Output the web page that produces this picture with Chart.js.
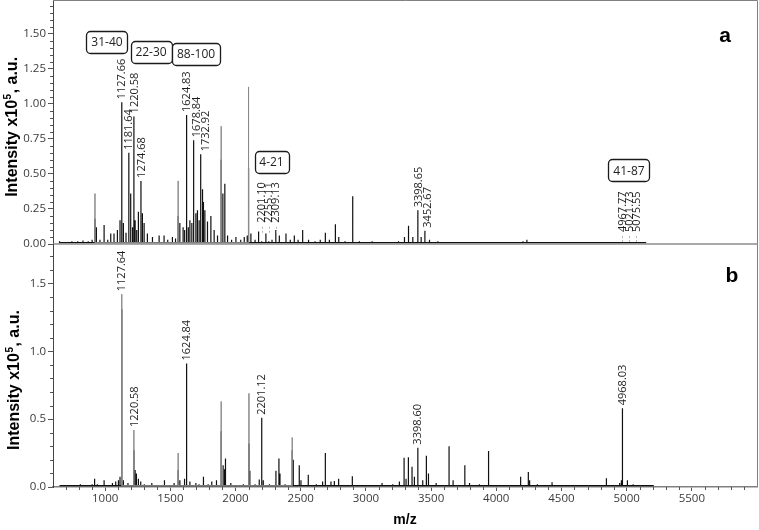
<!DOCTYPE html>
<html><head><meta charset="utf-8">
<script src="https://cdn.jsdelivr.net/npm/chart.js@4.4.1/dist/chart.umd.min.js"></script>
<style>
html,body{margin:0;padding:0;background:#fff;}
#wrap{position:relative;width:759px;height:530px;background:#fff;}
canvas{position:absolute;left:0;top:0;}
</style></head><body>
<div id="wrap"><canvas id="ca" width="759" height="530"></canvas><canvas id="cb" width="759" height="530"></canvas></div>
<script>
// ---------- axis ticks ----------
const xTickValues = [1000,1500,2000,2500,3000,3500,4000,4500,5000,5500];
const yTicksA = [0,0.25,0.5,0.75,1.0,1.25,1.5];
const yTicksB = [0,0.5,1.0,1.5];

// ---------- panel a : peaks (m/z, intensity x10^5) ----------
const peakMzA = [650,700,745,790,830,870,900,922,933,960,992,1020,1043,1068,1094,1114,1127.66,1140,1160,1181.64,1196,1210,1220.58,1230,1242,1255,1274.68,1286,1299,1324,1363,1414,1452,1480,1516,1540,1560,1573,1598,1610,1624.83,1638,1650,1665,1678.84,1696,1708,1721,1732.92,1747,1754,1765,1785,1811,1836,1862,1890,1903,1918,1939,1970,2003,2040,2067,2090,2100,2118,2150,2177,2201.10,2233,2255.11,2280,2309.13,2336,2387,2420,2451,2480,2515,2560,2610,2650,2689,2720,2766,2792,2840,2899,2950,3000,3048,3100,3180,3250,3296,3327,3360,3398.65,3424,3452.67,3488,3552,3650,3800,4000,4205,4235,4400,4967.77,5021.73,5075.55,5150];
const peakIntA = [0.02,0.015,0.02,0.02,0.025,0.02,0.03,0.18,0.12,0.03,0.135,0.03,0.075,0.075,0.1,0.17,1.01,0.15,0.08,0.65,0.36,0.12,0.91,0.17,0.1,0.23,0.45,0.22,0.15,0.075,0.05,0.06,0.06,0.03,0.05,0.04,0.2,0.15,0.12,0.1,0.92,0.12,0.17,0.15,0.74,0.22,0.24,0.17,0.64,0.39,0.3,0.24,0.16,0.2,0.1,0.06,0.6,0.36,0.43,0.06,0.03,0.05,0.03,0.05,0.06,0.54,0.075,0.03,0.09,0.02,0.075,0.02,0.03,0.1,0.06,0.075,0.03,0.06,0.03,0.1,0.03,0.02,0.03,0.08,0.03,0.14,0.05,0.02,0.34,0.02,0.015,0.02,0.015,0.015,0.02,0.05,0.13,0.05,0.24,0.05,0.095,0.03,0.02,0.01,0.01,0.01,0.02,0.03,0.01,0.012,0.012,0.012,0.01];
const tipMzA = [922,1560,1890,2100];
const tipIntA = [0.36,0.45,0.84,1.12];
const labelMzA = [1127.66,1181.64,1220.58,1274.68,1624.83,1678.84,1732.92,2201.10,2255.11,2309.13,3398.65,3452.67,4967.77,5021.73,5075.55];
const labelAtA = [1.01,0.65,0.91,0.45,0.92,0.74,0.64,0.13,0.13,0.13,0.24,0.095,0.064,0.064,0.064];
const labelGuideA = [0,0,0,0,0,0,0,1,1,1,0,0,1,1,1];
const boxTextA = ['31-40','22-30','88-100','4-21','41-87'];
const boxMzA = [1014,1352,1697,2276,5018];
const boxAtA = [1.443,1.371,1.357,0.586,0.525];

// ---------- panel b ----------
const peakMzB = [650,700,760,810,860,900,915,922,940,992,1020,1056,1081,1102,1114,1127.64,1140,1175,1220.58,1230,1240,1255,1273,1300,1358,1400,1455,1490,1529,1560,1573,1609,1624.84,1650,1696,1720,1754,1790,1818,1854,1890,1905,1916,1923,1964,2000,2060,2103,2110,2150,2182,2201.12,2213,2260,2310,2333,2341,2380,2435,2443,2489,2502,2558,2620,2668,2689,2732,2758,2791,2850,2896,2960,3027,3080,3124,3206,3257,3293,3308,3326,3354,3372,3398.60,3436,3464,3480,3539,3600,3638,3669,3720,3759,3795,3871,3941,4026,4100,4187,4246,4256,4315,4428,4600,4845,4900,4947,4960,4968.03,5006,5050,5101,5208];
const peakIntB = [0.01,0.01,0.015,0.02,0.015,0.02,0.05,0.06,0.02,0.05,0.015,0.03,0.04,0.05,0.075,1.31,0.05,0.03,0.27,0.125,0.1,0.06,0.04,0.02,0.03,0.015,0.05,0.015,0.03,0.125,0.05,0.06,0.91,0.04,0.03,0.02,0.075,0.02,0.04,0.05,0.41,0.16,0.13,0.21,0.03,0.015,0.02,0.32,0.12,0.02,0.056,0.51,0.05,0.02,0.12,0.21,0.1,0.02,0.27,0.2,0.16,0.05,0.09,0.02,0.04,0.25,0.04,0.045,0.06,0.015,0.08,0.01,0.015,0.015,0.03,0.02,0.04,0.215,0.06,0.22,0.15,0.075,0.29,0.05,0.23,0.1,0.03,0.015,0.30,0.05,0.015,0.16,0.03,0.02,0.265,0.01,0.01,0.075,0.11,0.05,0.02,0.035,0.01,0.065,0.01,0.03,0.05,0.58,0.05,0.02,0.01,0.01];
const tipMzB = [1127.64,1220.58,1560,1890,2103,2435];
const tipIntB = [1.42,0.42,0.25,0.63,0.69,0.365];
const labelMzB = [1127.64,1220.58,1624.84,2201.12,3398.60,4968.03];
const labelAtB = [1.42,0.42,0.91,0.51,0.29,0.58];

// ---------- helpers ----------
const BASE = 0.01;
function sticks(mz, h) {
  const n = Math.min(mz.length, h.length);
  const idx = [...Array(n).keys()].sort((a,b)=>mz[a]-mz[b]);
  const pts = [];
  idx.forEach(i => { pts.push({x:mz[i],y:BASE},{x:mz[i],y:h[i]},{x:mz[i],y:BASE}); });
  return pts;
}
const SANS = '"Open Sans", "Liberation Sans", Arial, sans-serif';
const BOLD = '"Liberation Sans", Arial, sans-serif';
const LABEL_FONT = '11px ' + SANS;

function drawYTitle(ctx, cx, cy) {
  ctx.save();
  ctx.translate(cx, cy); ctx.rotate(-Math.PI/2);
  const f1 = 'bold 16px ' + BOLD, f2 = 'bold 10px ' + BOLD;
  const p1 = 'Intensity x10', p2 = '5', p3 = ', a.u.';
  ctx.font = f1; const w1 = ctx.measureText(p1).width, w3 = ctx.measureText(p3).width;
  ctx.font = f2; const w2 = ctx.measureText(p2).width + 1;
  const x0 = -(w1 + w2 + w3) / 2;
  ctx.fillStyle = '#000'; ctx.textAlign = 'left'; ctx.textBaseline = 'middle';
  ctx.font = f1; ctx.fillText(p1, x0, 0);
  ctx.font = f2; ctx.fillText(p2, x0 + w1 + 0.5, -5);
  ctx.font = f1; ctx.fillText(p3, x0 + w1 + w2, 0);
  ctx.restore();
}
function drawPeakLabel(ctx, x, y, text) {
  ctx.save();
  ctx.translate(x + 0.5, y); ctx.rotate(-Math.PI/2);
  ctx.font = LABEL_FONT; ctx.fillStyle = '#1e1e1e';
  ctx.textAlign = 'left'; ctx.textBaseline = 'middle';
  ctx.fillText(text, 0, 0);
  ctx.restore();
}
// place rotated labels, nudging a label right when it would collide with its left neighbour
function layoutLabels(ctx, xs, ys, texts, guides) {
  ctx.save(); ctx.font = LABEL_FONT;
  const out = []; let prev = null;
  xs.forEach((px, i) => {
    const len = ctx.measureText(texts[i]).width;
    const bottom = ys[i], top = ys[i] - len;
    let x = px;
    if (!guides[i] && prev) {
      const overlap = Math.min(bottom, prev.bottom) - Math.max(top, prev.top);
      if (overlap > 5 && x - prev.x < 9.5) x = prev.x + 9.5;
    }
    out.push(x);
    prev = guides[i] ? null : {x, top, bottom};
  });
  ctx.restore();
  return out;
}
function drawBox(ctx, cx, cy, text) {
  ctx.save();
  ctx.font = '12px ' + SANS;
  const w = Math.round(ctx.measureText(text).width + 10), h = 22, r = 4;
  const x = Math.round(cx - w/2) + 0.5, y = Math.round(cy - h/2) + 0.5;
  ctx.beginPath();
  ctx.moveTo(x + r, y); ctx.lineTo(x + w - r, y); ctx.arcTo(x + w, y, x + w, y + r, r);
  ctx.lineTo(x + w, y + h - r); ctx.arcTo(x + w, y + h, x + w - r, y + h, r);
  ctx.lineTo(x + r, y + h); ctx.arcTo(x, y + h, x, y + h - r, r);
  ctx.lineTo(x, y + r); ctx.arcTo(x, y, x + r, y, r); ctx.closePath();
  ctx.fillStyle = '#fff'; ctx.fill();
  ctx.strokeStyle = '#1a1a1a'; ctx.lineWidth = 1.3; ctx.stroke();
  ctx.fillStyle = '#222'; ctx.textAlign = 'center'; ctx.textBaseline = 'middle';
  ctx.fillText(text, cx, cy + 1);
  ctx.restore();
}

const decorA = {
  id: 'decorA',
  afterDraw(chart) {
    const {ctx, chartArea: a, scales: {x, y}} = chart;
    ctx.save();
    ctx.lineWidth = 1;
    ctx.strokeStyle = '#808080';
    ctx.beginPath(); ctx.moveTo(a.left, 0.5); ctx.lineTo(a.right + 0.5, 0.5); ctx.lineTo(a.right + 0.5, a.bottom); ctx.stroke();
    ctx.lineWidth = 1.5; ctx.strokeStyle = '#8c8c8c';
    ctx.beginPath(); ctx.moveTo(a.left, a.bottom); ctx.lineTo(a.right, a.bottom); ctx.stroke();
    ctx.lineWidth = 1; ctx.strokeStyle = '#555';
    for (let k = 1; k * 0.05 < y.max; k++) {
      if (k % 5 === 0) continue;
      const py = Math.round(y.getPixelForValue(k * 0.05)) + 0.5;
      ctx.beginPath(); ctx.moveTo(a.left - 3, py); ctx.lineTo(a.left, py); ctx.stroke();
    }
    const texts = labelMzA.map(m => m.toFixed(2));
    const pxs = labelMzA.map(m => x.getPixelForValue(m));
    const pys = labelAtA.map(v => y.getPixelForValue(v) - 3);
    const lx = layoutLabels(ctx, pxs, pys, texts, labelGuideA);
    texts.forEach((t, i) => {
      drawPeakLabel(ctx, lx[i], pys[i], t);
      if (labelGuideA[i]) {
        ctx.save(); ctx.strokeStyle = '#b5b5b5'; ctx.setLineDash([2, 2]); ctx.lineWidth = 1;
        const xx = Math.round(pxs[i]) + 0.5, py = pys[i] + 3;
        ctx.beginPath(); ctx.moveTo(xx, py + 1); ctx.lineTo(xx, Math.min(py + 9, a.bottom - 1)); ctx.stroke();
        ctx.restore();
      }
    });
    boxTextA.forEach((t, i) => drawBox(ctx, x.getPixelForValue(boxMzA[i]), y.getPixelForValue(boxAtA[i]), t));
    ctx.font = 'bold 21px ' + BOLD; ctx.fillStyle = '#000'; ctx.textAlign = 'center'; ctx.textBaseline = 'middle';
    ctx.fillText('a', a.right - 32, a.top + 36);
    drawYTitle(ctx, 13, a.top + 0.52 * (a.bottom - a.top));
    ctx.restore();
  }
};
const decorB = {
  id: 'decorB',
  afterDraw(chart) {
    const {ctx, chartArea: a, scales: {x, y}} = chart;
    ctx.save();
    ctx.lineWidth = 1; ctx.strokeStyle = '#808080';
    ctx.beginPath(); ctx.moveTo(a.right + 0.5, a.top); ctx.lineTo(a.right + 0.5, a.bottom); ctx.stroke();
    ctx.strokeStyle = '#555';
    for (let k = 1; k * 0.1 < y.max; k++) {
      if (k % 5 === 0) continue;
      const py = Math.round(y.getPixelForValue(k * 0.1)) + 0.5;
      ctx.beginPath(); ctx.moveTo(a.left - 3, py); ctx.lineTo(a.left, py); ctx.stroke();
    }
    for (let m = 700; m < x.max; m += 100) {
      if (m % 500 === 0) continue;
      const px = Math.round(x.getPixelForValue(m)) + 0.5;
      ctx.beginPath(); ctx.moveTo(px, a.bottom); ctx.lineTo(px, a.bottom + 3); ctx.stroke();
    }
    labelMzB.forEach((m, i) => {
      drawPeakLabel(ctx, x.getPixelForValue(m), y.getPixelForValue(labelAtB[i]) - 3, m.toFixed(2));
    });
    ctx.font = 'bold 21px ' + BOLD; ctx.fillStyle = '#000'; ctx.textAlign = 'center'; ctx.textBaseline = 'middle';
    ctx.fillText('b', a.right - 25, a.top + 32);
    drawYTitle(ctx, 15, a.top + 0.56 * (a.bottom - a.top));
    ctx.restore();
  }
};

function lineDs(data, color, width) {
  return {data, borderColor: color, borderWidth: width, pointRadius: 0, tension: 0, fill: false};
}
const common = {
  responsive: false, animation: false, events: [],
  plugins: {legend: {display: false}, tooltip: {enabled: false}}
};

new Chart(document.getElementById('ca'), {
  type: 'line',
  data: {datasets: [lineDs(sticks(tipMzA, tipIntA), '#8a8a8a', 1), lineDs(sticks(peakMzA, peakIntA), '#101010', 1.2)]},
  options: Object.assign({}, common, {
    layout: {padding: {left: 0, right: 2, top: 0, bottom: 286}},
    scales: {
      x: {type: 'linear', min: 600, max: 6000, display: false},
      y: {
        type: 'linear', min: 0, max: 1.74,
        afterFit(s) { s.width = 53; s.paddingTop = 0; s.paddingBottom = 0; },
        afterBuildTicks(s) { s.ticks = yTicksA.map(v => ({value: v})); },
        ticks: {callback: v => Number(v).toFixed(2), font: {family: SANS, size: 11.5}, color: '#3a3a3a', padding: 2},
        grid: {drawOnChartArea: false, tickLength: 5, tickColor: '#555'},
        border: {color: '#444', width: 1}
      }
    }
  }),
  plugins: [decorA]
});

new Chart(document.getElementById('cb'), {
  type: 'line',
  data: {datasets: [lineDs(sticks(tipMzB, tipIntB), '#8a8a8a', 1), lineDs(sticks(peakMzB, peakIntB), '#101010', 1.2)]},
  options: Object.assign({}, common, {
    layout: {padding: {left: 0, right: 2, top: 244, bottom: 0}},
    scales: {
      x: {
        type: 'linear', min: 600, max: 6000,
        afterFit(s) { s.height = 43; s.paddingLeft = 0; s.paddingRight = 0; },
        afterBuildTicks(s) { s.ticks = xTickValues.map(v => ({value: v})); },
        ticks: {callback: v => String(v), font: {family: SANS, size: 11.5}, color: '#3a3a3a', padding: 1, maxRotation: 0},
        grid: {drawOnChartArea: false, tickLength: 4, tickColor: '#555'},
        border: {color: '#808080', width: 1.5},
        title: {display: true, text: 'm/z', font: {family: BOLD, size: 14, weight: 'bold'}, color: '#000', padding: {top: 0, bottom: 1}}
      },
      y: {
        type: 'linear', min: 0, max: 1.79,
        afterFit(s) { s.width = 53; s.paddingTop = 0; s.paddingBottom = 0; },
        afterBuildTicks(s) { s.ticks = yTicksB.map(v => ({value: v})); },
        ticks: {callback: v => Number(v).toFixed(1), font: {family: SANS, size: 11.5}, color: '#3a3a3a', padding: 2},
        grid: {drawOnChartArea: false, tickLength: 5, tickColor: '#555'},
        border: {color: '#444', width: 1}
      }
    }
  }),
  plugins: [decorB]
});
</script>
</body></html>
